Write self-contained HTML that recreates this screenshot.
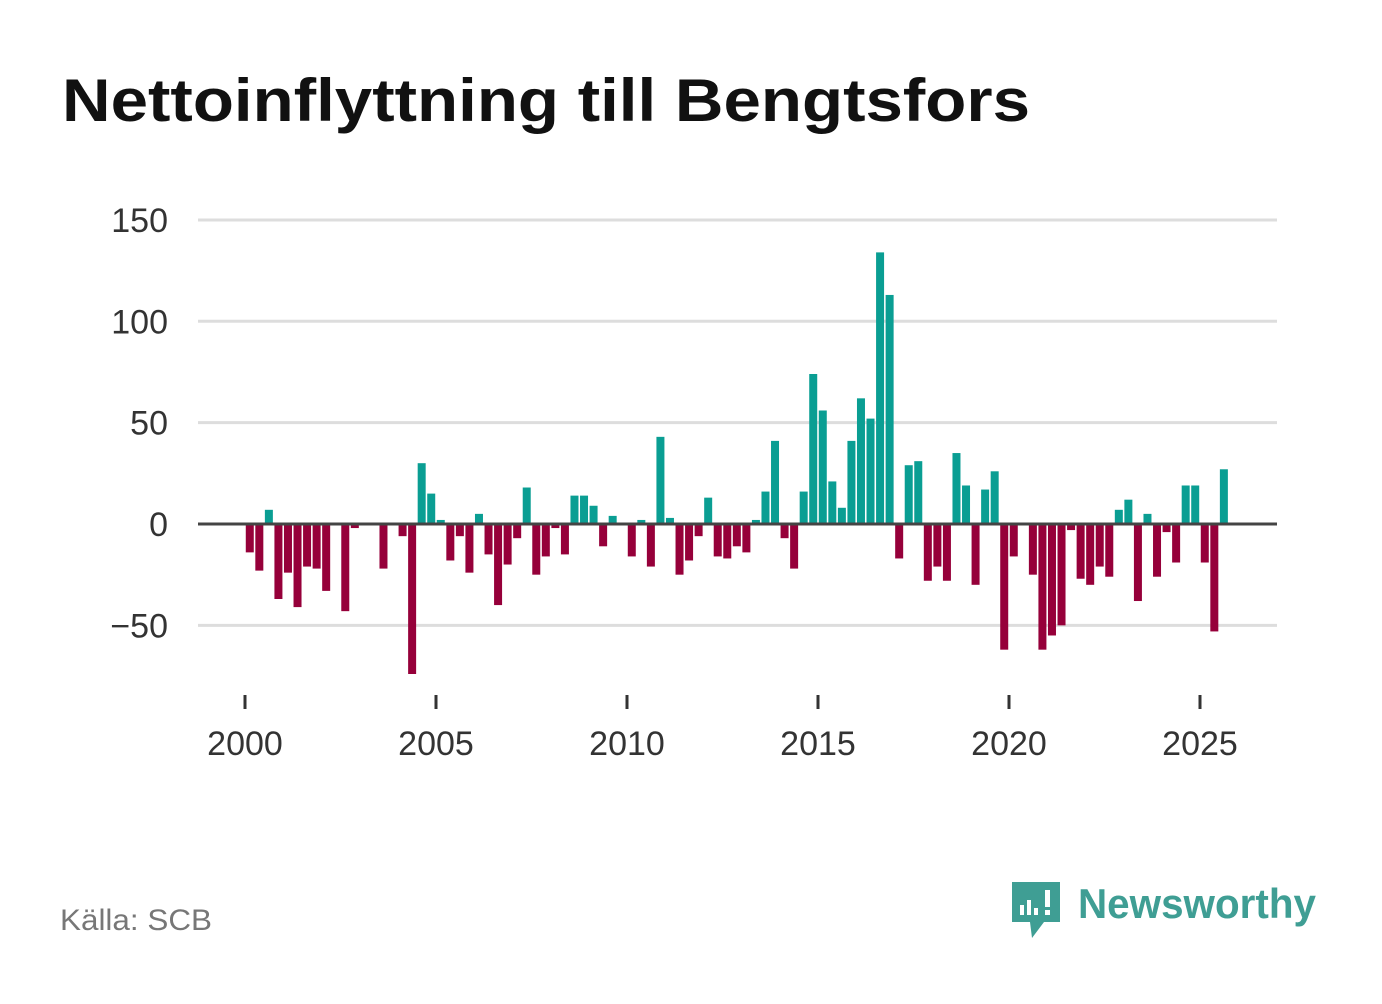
<!DOCTYPE html>
<html><head><meta charset="utf-8"><style>
body{margin:0;background:#fff;width:1382px;height:999px;overflow:hidden;font-family:"Liberation Sans","DejaVu Sans",sans-serif}
</style></head><body>
<svg width="1382" height="999">
<text x="62" y="121" font-size="60" font-weight="bold" fill="#111" textLength="968" lengthAdjust="spacingAndGlyphs">Nettoinflyttning till Bengtsfors</text>
<g id="grid"></g><g id="bars"></g><g id="axis"></g>
<text x="60" y="930" font-size="30" fill="#777" textLength="152" lengthAdjust="spacingAndGlyphs">Källa: SCB</text>
<g>
<path d="M1012 882 h48 v40 h-16 l-12 16 l-2 -16 h-18 z" fill="#3f9e94"/>
<rect x="1020" y="905" width="4" height="10" fill="#fff"/><rect x="1027" y="900" width="4" height="15" fill="#fff"/><rect x="1034" y="908" width="4" height="7" fill="#fff"/><rect x="1045" y="890" width="5" height="17" fill="#fff"/><rect x="1045" y="910" width="5" height="5" fill="#fff"/>
<text x="1078" y="918" font-size="42" font-weight="bold" fill="#3f9e94" textLength="238" lengthAdjust="spacingAndGlyphs">Newsworthy</text>
</g>
</svg>
<script>
const values=[-14,-23,7,-37,-24,-41,-21,-22,-33,0,-43,-2,0,0,-22,0,-6,-74,30,15,2,-18,-6,-24,5,-15,-40,-20,-7,18,-25,-16,-2,-15,14,14,9,-11,4,0,-16,2,-21,43,3,-25,-18,-6,13,-16,-17,-11,-14,2,16,41,-7,-22,16,74,56,21,8,41,62,52,134,113,-17,29,31,-28,-21,-28,35,19,-30,17,26,-62,-16,0,-25,-62,-55,-50,-3,-27,-30,-21,-26,7,12,-38,5,-26,-4,-19,19,19,-19,-53,27];
const startYear=2000;
const yTicks=[150,100,50,0,-50];
const xTicks=[2000,2005,2010,2015,2020,2025];
const NS="http://www.w3.org/2000/svg";
const y=v=>524-v*2.027;
const x=yr=>245+(yr-2000)*38.2;
const grid=document.getElementById('grid'),bars=document.getElementById('bars'),axis=document.getElementById('axis');
function mk(tag,attrs,parent){const e=document.createElementNS(NS,tag);for(const k in attrs)e.setAttribute(k,attrs[k]);parent.appendChild(e);return e;}
yTicks.forEach(t=>{
  if(t!==0){const l=mk('line',{x1:198,x2:1277,y1:y(t),y2:y(t),stroke:'#ddd','stroke-width':3},grid);
  
  }
  const tx=mk('text',{x:168,y:y(t)+12,'text-anchor':'end','font-size':34,fill:'#333'},grid);
  tx.textContent=t<0?'\u2212'+(-t):String(t);
  
  
});
values.forEach((v,i)=>{
  const c=x(startYear+(i+0.5)/4);
  const r=mk('rect',{x:c-4,y:Math.min(y(v),y(0)),width:8,height:Math.abs(y(v)-y(0)),fill:v>=0?'#0a9e93':'#96003a'},bars);
  
  
});
const z=mk('line',{x1:198,x2:1277,y1:y(0),y2:y(0),stroke:'#444','stroke-width':3},axis);


xTicks.forEach(t=>{
  const tk=mk('line',{x1:x(t),x2:x(t),y1:695,y2:709,stroke:'#333','stroke-width':3},axis);
  
  
  const tx=mk('text',{x:x(t),y:755,'text-anchor':'middle','font-size':34,fill:'#333'},axis);
  tx.textContent=t;
  
  
});
</script>
</body></html>
